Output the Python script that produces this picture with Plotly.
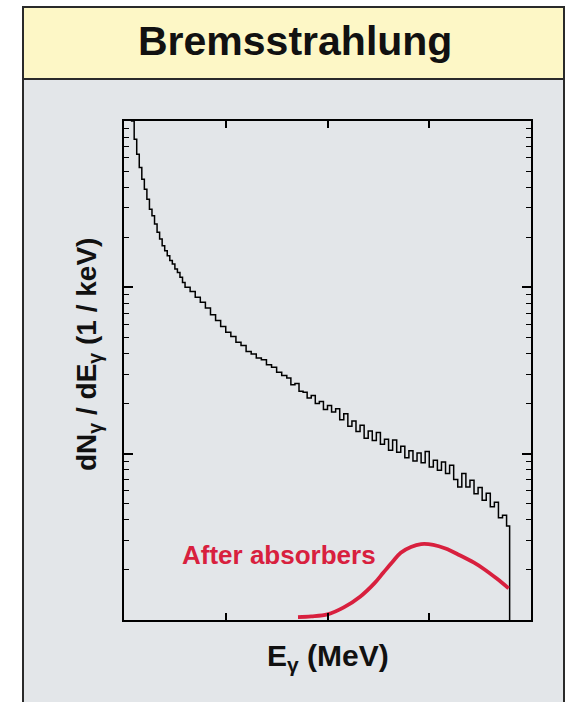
import plotly.graph_objects as go

# ---- data ----
# Bremsstrahlung spectrum, histogram bins (bin start energy in MeV)
brems_e = [0.25, 0.375, 0.5, 0.625, 0.75, 0.875, 1.0, 1.125, 1.25, 1.375, 1.5, 1.625,
           1.75, 1.875, 2.0, 2.125, 2.25, 2.375, 2.5, 2.625, 2.75, 2.875,
           3.0, 3.25, 3.5, 3.75, 4.0, 4.25, 4.5, 4.75, 5.0, 5.25, 5.5, 5.75,
           6.0, 6.25, 6.5, 6.75, 7.0, 7.25, 7.5, 7.75,
           8.0, 8.2, 8.4, 8.6, 8.8, 9.0, 9.2, 9.4, 9.6, 9.8, 10.0, 10.2, 10.4, 10.6,
           10.8, 11.0, 11.2, 11.4, 11.6, 11.8, 12.0, 12.2, 12.4, 12.6, 12.8, 13.0,
           13.2, 13.4, 13.6, 13.8, 14.0, 14.2, 14.4, 14.6, 14.8, 15.0, 15.2, 15.4,
           15.6, 15.8, 16.0, 16.2, 16.4, 16.6, 16.8, 17.0, 17.2, 17.4, 17.6, 17.8,
           18.0, 18.2, 18.4, 18.6, 18.8, 18.95]
brems_dn = [1413, 1000, 776, 631, 525, 447, 389, 339, 295, 269, 240, 214,
            195, 178, 166, 155, 145, 138, 129, 123, 115, 107,
            100, 94.4, 87.1, 81.3, 75.0, 68.4, 63.1, 58.2, 53.7, 50.7, 46.8, 44.7,
            41.2, 39.8, 37.6, 36.7, 34.3, 33.1, 30.9, 29.5,
            28.5, 26.0, 26.4, 23.7, 23.4, 21.6, 22.4, 20.0, 20.6, 18.4, 19.5, 17.8, 18.6, 16.0,
            17.4, 14.6, 15.7, 13.6, 14.8, 12.4, 13.7, 12.0, 13.4, 11.4, 12.2, 10.5,
            12.1, 10.2, 11.1, 9.44, 10.4, 9.02, 10.1, 8.81, 10.3, 8.32, 9.12, 7.94,
            8.91, 7.59, 8.51, 7.00, 6.31, 7.60, 6.31, 6.92, 5.75, 6.27, 5.25, 5.79,
            4.79, 5.11, 4.12, 4.27, 3.67, 1.0]

# Spectrum after absorbers
absorb_e = [8.55, 9.2, 10.0, 10.8, 11.6, 12.3, 12.75, 13.2, 13.6, 14.1, 14.6,
            15.2, 15.8, 16.5, 17.2, 17.7, 18.3, 18.9]
absorb_dn = [1.04, 1.05, 1.08, 1.19, 1.38, 1.66, 1.93, 2.24, 2.54, 2.75, 2.86,
             2.83, 2.69, 2.45, 2.21, 2.02, 1.78, 1.55]

x_ticks = [5, 10, 15]
y_major = [1, 10, 100, 1000]
y_minor = [m * d for d in (1, 10, 100) for m in range(2, 10)]

title_text = "<b>Bremsstrahlung</b>"
x_title = "<b>E<sub>γ</sub> (MeV)</b>"
y_title = "<b>dN<sub>γ</sub> / dE<sub>γ</sub> (1 / keV)</b>"
label_text = "<b>After absorbers</b>"

RED = "#d8203e"
FONT = "Liberation Sans, Arial, Helvetica, sans-serif"

fig = go.Figure()
fig.add_trace(go.Scatter(x=brems_e, y=brems_dn, mode="lines",
                         line=dict(color="black", width=1.5, shape="hv"),
                         showlegend=False, hoverinfo="skip"))
fig.add_trace(go.Scatter(x=absorb_e, y=absorb_dn, mode="lines",
                         line=dict(color=RED, width=3.8, shape="spline", smoothing=1.0),
                         showlegend=False, hoverinfo="skip"))

axis_common = dict(showgrid=False, zeroline=False, showline=True, linecolor="black",
                   linewidth=2, mirror="ticks", ticks="inside", tickcolor="black",
                   showticklabels=False)

fig.update_xaxes(range=[0, 20], tickvals=x_ticks, ticklen=7, tickwidth=1.5, **axis_common)
fig.update_yaxes(type="log", range=[0, 3], tickvals=y_major, ticklen=9, tickwidth=1.5,
                 minor=dict(tickvals=y_minor, ticks="inside", ticklen=5, tickwidth=1.2,
                            tickcolor="black", showgrid=False),
                 **axis_common)

L, R, T, B = 124, 531, 121, 620
W, H = 567, 702
def px(xp):
    return (xp - L) / (R - L)
def py(yp):
    return (B - yp) / (B - T)

shapes = [
    dict(type="rect", xref="paper", yref="paper", x0=px(23), x1=px(564), y0=py(712), y1=py(79),
         fillcolor="#e3e6e9", line=dict(color="#2a2a2a", width=2), layer="below"),
    dict(type="rect", xref="paper", yref="paper", x0=px(23), x1=px(564), y0=py(79), y1=py(7),
         fillcolor="#fdf7c6", line=dict(color="#2a2a2a", width=2), layer="below"),
]

annotations = [
    dict(text=title_text, xref="paper", yref="paper", x=px(295), y=py(41), showarrow=False,
         font=dict(family=FONT, size=41, color="#111111"), xanchor="center", yanchor="middle"),
    dict(text=x_title, xref="paper", yref="paper", x=px(328), y=py(657), showarrow=False,
         font=dict(family=FONT, size=30, color="#111111"), xanchor="center", yanchor="middle"),
    dict(text=y_title, xref="paper", yref="paper", x=px(88), y=py(355), showarrow=False,
         textangle=-90, font=dict(family=FONT, size=28, color="#111111"),
         xanchor="center", yanchor="middle"),
    dict(text=label_text, xref="x", yref="y", x=7.6, y=0.39, showarrow=False,
         font=dict(family=FONT, size=26, color=RED), xanchor="center", yanchor="middle"),
]

fig.update_layout(width=W, height=H, margin=dict(l=L, r=W - R, t=T, b=H - B),
                  paper_bgcolor="white", plot_bgcolor="white",
                  shapes=shapes, annotations=annotations, showlegend=False)

fig.write_html("out.html", config={"displayModeBar": False},
               post_script="document.body.style.margin='0px';"
                           "document.body.style.overflow='hidden';")
